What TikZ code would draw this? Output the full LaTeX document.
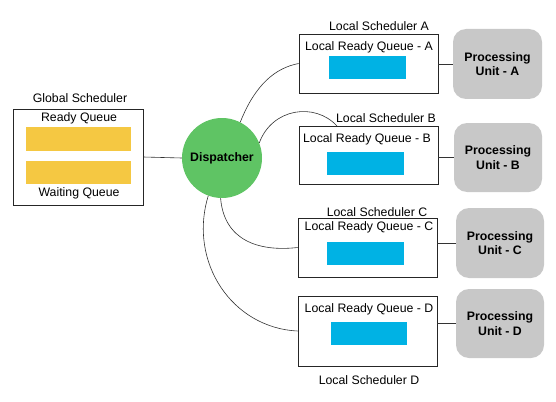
\documentclass[tikz,border=0pt]{standalone}
\usepackage{fontspec}
\setmainfont{Liberation Sans}
\begin{document}
\begin{tikzpicture}[x=1pt,y=-1pt,
  lbl/.style={inner sep=0pt,font=\fontsize{12.3}{14}\selectfont},
  frame/.style={draw=black!85,line width=0.7pt,inner sep=0pt},
  ybar/.style={fill=qyellow,draw=none,inner sep=0pt},
  bbar/.style={fill=qblue,draw=none,inner sep=0pt},
  pu/.style={fill=pugray,draw=none,rounded corners=13pt,inner sep=0pt,minimum width=88pt,minimum height=70pt,align=center,font=\bfseries\fontsize{12.3}{14.5}\selectfont},
  wire/.style={draw=black!80,line width=0.6pt}]
\definecolor{qyellow}{RGB}{245,200,66}
\definecolor{qblue}{RGB}{0,178,228}
\definecolor{pugray}{RGB}{200,200,200}
\definecolor{dgreen}{RGB}{95,196,100}
\useasboundingbox (0,0) rectangle (556,401);
% global scheduler
\node[frame,minimum width=130pt,minimum height=96pt] (gbox) at (78,157) {};
\node[lbl] (gtitle) at (80,98) {Global Scheduler};
\node[lbl] (rq) at (79,118) {Ready Queue};
\node[ybar,minimum width=105pt,minimum height=24pt] (ybar1) at (78.5,139) {};
\node[ybar,minimum width=105pt,minimum height=23pt] (ybar2) at (78.5,172.5) {};
\node[lbl] (wq) at (79,193) {Waiting Queue};
% dispatcher
\node[circle,fill=dgreen,draw=none,minimum size=80pt,inner sep=0pt,font=\bfseries\fontsize{12.3}{14}\selectfont] (disp) at (222,158) {Dispatcher};
% local boxes
\node[frame,minimum width=139pt,minimum height=59pt] (boxA) at (368.5,63.5) {};
\node[frame,minimum width=139pt,minimum height=58pt] (boxB) at (368.5,155) {};
\node[frame,minimum width=139pt,minimum height=59pt] (boxC) at (367.5,247.5) {};
\node[frame,minimum width=139pt,minimum height=70pt] (boxD) at (367.5,331) {};
\node[lbl] (tA) at (379,26) {Local Scheduler A};
\node[lbl] (tB) at (386,118) {Local Scheduler B};
\node[lbl] (tC) at (377,212) {Local Scheduler C};
\node[lbl] (tD) at (369,380) {Local Scheduler D};
\node[lbl] (qA) at (369,47) {Local Ready Queue - A};
\node[lbl] (qB) at (367,139) {Local Ready Queue - B};
\node[lbl] (qC) at (369,227) {Local Ready Queue - C};
\node[lbl] (qD) at (369,309) {Local Ready Queue - D};
\node[bbar,minimum width=77pt,minimum height=23pt] (bA) at (367.5,67.5) {};
\node[bbar,minimum width=77pt,minimum height=23pt] (bB) at (365.5,163.5) {};
\node[bbar,minimum width=77pt,minimum height=23pt] (bC) at (365.5,253.5) {};
\node[bbar,minimum width=76pt,minimum height=23pt] (bD) at (369,333.5) {};
% processing units
\node[pu,minimum width=89pt] (puA) at (497.5,64) {Processing\\Unit - A};
\node[pu,minimum height=69pt] (puB) at (498,157.5) {Processing\\Unit - B};
\node[pu] (puC) at (500,243) {Processing\\Unit - C};
\node[pu,minimum height=69pt] (puD) at (500,323.5) {Processing\\Unit - D};
% connectors
\draw[wire] (gbox.east) -- (disp.west);
\draw[wire] (boxA.east |- puA.west) -- (puA.west);
\draw[wire] (boxB.east |- puB.west) -- (puB.west);
\draw[wire] (boxC.east |- puC.west) -- (puC.west);
\draw[wire] (boxD.east |- puD.west) -- (puD.west);
\coordinate (bEnd) at (337,126);
\draw[wire] (disp.63) .. controls (255,85) and (275,68) .. (boxA.west);
\draw[wire] (disp.22) .. controls (272,108) and (315,102) .. (bEnd);
\draw[wire] (disp.268) .. controls (224,240) and (258,252) .. (boxC.west);
\draw[wire] (disp.250) .. controls (188,262) and (232,328) .. (boxD.west);
\end{tikzpicture}
\end{document}
